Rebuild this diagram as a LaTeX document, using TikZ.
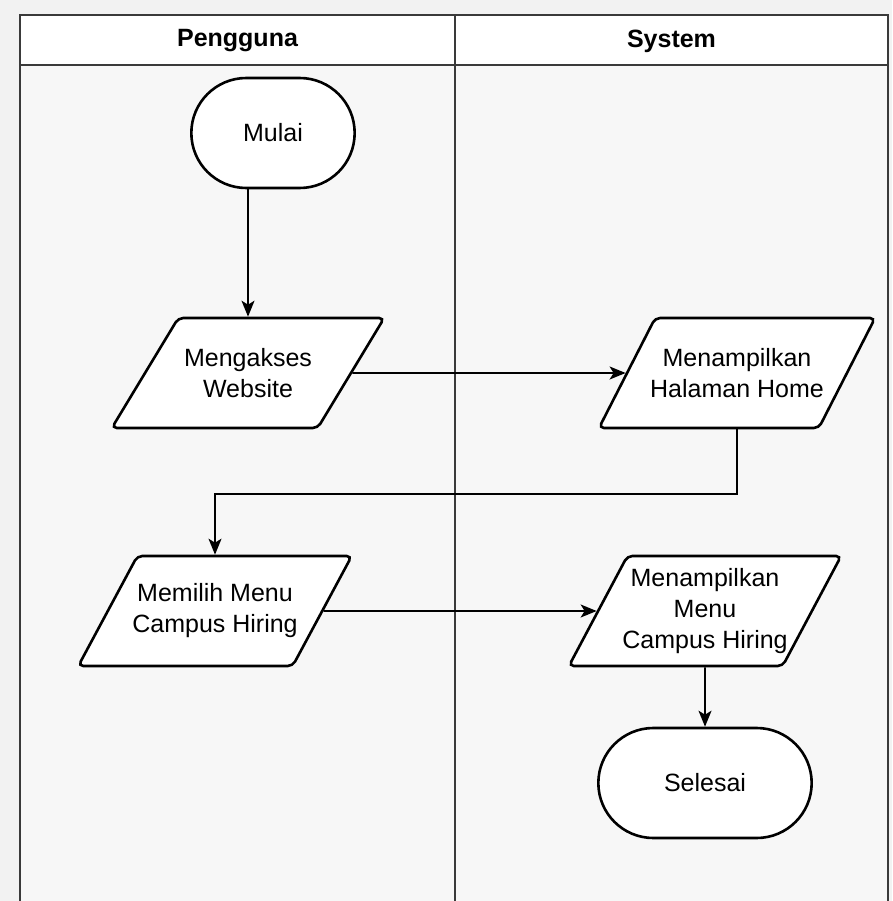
\documentclass[tikz,border=0pt]{standalone}
\usepackage{fontspec}
\setmainfont{Liberation Sans}
\usepackage{xcolor}
\definecolor{cLine}{HTML}{000000}
\definecolor{cFrame}{HTML}{3A3A3A}
\definecolor{cLane}{HTML}{F7F7F7}
\definecolor{cPage}{HTML}{F2F2F2}
\usetikzlibrary{positioning,arrows.meta,shapes.geometric,shapes.misc}
\tikzset{
  node-term/.style={draw=cLine,line width=2.6pt,fill=white,rounded rectangle,
    minimum height=110pt,align=center},
  node-io/.style={draw=cLine,line width=2.6pt,fill=white,trapezium,
    trapezium left angle=60,trapezium right angle=120,trapezium stretches=true,
    rounded corners=5pt,minimum width=273pt,minimum height=110pt,
    inner xsep=-5pt,inner ysep=24pt,align=center},
  lane/.style={draw=cFrame,line width=1.4pt,fill=cLane},
  lane-head/.style={font=\fontsize{25}{31}\selectfont\bfseries},
  arrow/.style={-{Stealth[length=16pt,width=13pt,inset=4pt]},line width=1.8pt,draw=cLine},
}
\begin{document}
\begin{tikzpicture}[x=1pt,y=-1pt,font=\fontsize{25}{31}\selectfont]
  \fill[cPage] (0,0) rectangle (892,901);
  \useasboundingbox (0,0) rectangle (892,901);
  % dua lajur: Pengguna / System
  \draw[lane] (20,15) rectangle (455,920);
  \draw[lane] (455,15) rectangle (888,920);
  \draw[lane,fill=white] (20,15) rectangle (455,65);
  \draw[lane,fill=white] (455,15) rectangle (888,65);
  \node[lane-head] (pengguna) at (237.5,41) {Pengguna};
  \node[lane-head] (system) at (671.5,41) {System};

  \node[node-term,minimum width=170pt] (mulai) at (273,133) {Mulai};
  \node[node-io] (akses) at (248,373) {Mengakses\\Website};
  \node[node-io] (home) at (737,373) {Menampilkan\\Halaman Home};
  \node[node-io] (pilih) at (215,611) {Memilih Menu\\Campus Hiring};
  \node[node-io,inner ysep=8pt] (menu) at (705,611) {Menampilkan\\Menu\\Campus Hiring};
  \node[node-term,minimum width=220pt] (selesai) at (705,783) {Selesai};

  \draw[arrow] (mulai.south -| akses.north) -- (akses.north);
  \draw[arrow] (akses) -- (home);
  \draw[arrow] (home.south) -- ++(0,65) -| (pilih.north);
  \draw[arrow] (pilih) -- (menu);
  \draw[arrow] (menu) -- (selesai);
\end{tikzpicture}
\end{document}
